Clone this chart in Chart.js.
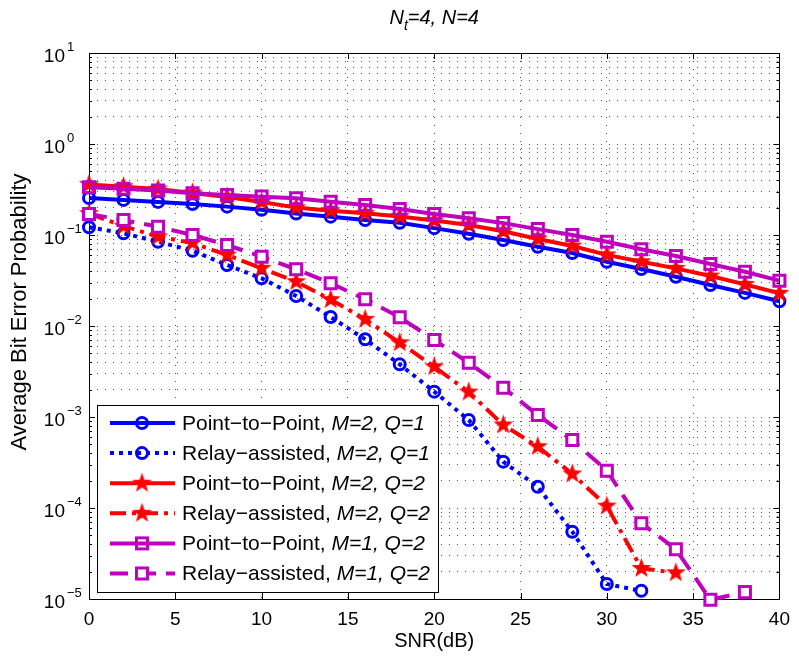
<!DOCTYPE html>
<html>
<head>
<meta charset="utf-8">
<title>Average BER vs SNR</title>
<script src="https://cdn.jsdelivr.net/npm/chart.js@4.4.1/dist/chart.umd.min.js"></script>
<style>
  body { margin: 0; background: #fff; }
  #berChart { display: block; }
</style>
</head>
<body>
<canvas id="berChart" width="799" height="660"></canvas>
<script>
const FONT = '"Liberation Sans", Arial, Helvetica, sans-serif';

// SNR points in dB (every curve starts at 0, step 2)
const snr = [0, 2, 4, 6, 8, 10, 12, 14, 16, 18, 20, 22, 24, 26, 28, 30, 32, 34, 36, 38, 40];

// average bit error probability for each scheme
const p2pM2Q1 = [0.255, 0.243, 0.231, 0.219, 0.205, 0.189, 0.172, 0.159, 0.146, 0.136, 0.119, 0.103, 0.088, 0.0743, 0.0634, 0.0509, 0.0423, 0.0348, 0.0282, 0.0231, 0.0187];
const relayM2Q1 = [0.1215, 0.1044, 0.0844, 0.0671, 0.0468, 0.0334, 0.0214, 0.01256, 0.00714, 0.00379, 0.0019, 0.000927, 0.000323, 0.000171, 5.49e-5, 1.46e-5, 1.23e-5];
const p2pM2Q2 = [0.36, 0.34, 0.32, 0.29, 0.262, 0.23, 0.2, 0.185, 0.173, 0.16, 0.144, 0.129, 0.11, 0.0905, 0.0757, 0.0605, 0.0509, 0.043, 0.0354, 0.0287, 0.0229];
const relayM2Q2 = [0.172, 0.125, 0.0958, 0.0817, 0.0603, 0.0431, 0.0307, 0.0195, 0.01185, 0.00655, 0.00357, 0.00188, 0.000817, 0.000472, 0.000237, 0.000105, 2.17e-5, 1.94e-5];
const p2pM1Q2 = [0.334, 0.322, 0.308, 0.287, 0.275, 0.264, 0.253, 0.232, 0.214, 0.193, 0.170, 0.153, 0.135, 0.116, 0.100, 0.0844, 0.0697, 0.0588, 0.048, 0.0395, 0.0315];
const relayM1Q2 = [0.170, 0.146, 0.123, 0.100, 0.0776, 0.0578, 0.042, 0.0295, 0.0197, 0.01247, 0.00702, 0.00395, 0.0021, 0.00105, 0.000558, 0.000257, 6.79e-5, 3.52e-5, 0.98e-5, 1.19e-5];

// x ticks and the decades that get a "10^k" label
const xTicks = [0, 5, 10, 15, 20, 25, 30, 35, 40];
const yDecades = [-5, -4, -3, -2, -1, 0, 1];

// legend text: plain part + italic part
const legendPlain = ['Point\u2212to\u2212Point, ', 'Relay\u2212assisted, ', 'Point\u2212to\u2212Point, ', 'Relay\u2212assisted, ', 'Point\u2212to\u2212Point, ', 'Relay\u2212assisted, '];
const legendItalic = ['M=2, Q=1', 'M=2, Q=1', 'M=2, Q=2', 'M=2, Q=2', 'M=1, Q=2', 'M=1, Q=2'];

const yTitle = 'Average Bit Error Probability';

const BLUE = '#0000ff';
const RED = '#ff0000';
const PURPLE = '#bf00bf';

function toPoints(values) {
  return values.map((v, i) => ({ x: snr[i], y: v }));
}

// filled five-point star used as the red marker
function makeStar(r, color) {
  const c = document.createElement('canvas');
  const size = Math.ceil(r * 2 + 2);
  c.width = size;
  c.height = size;
  const g = c.getContext('2d');
  const inner = r * 0.4;
  g.beginPath();
  for (let i = 0; i < 10; i++) {
    const rad = i % 2 === 0 ? r : inner;
    const a = -Math.PI / 2 + i * Math.PI / 5;
    const px = size / 2 + rad * Math.cos(a);
    const py = size / 2 + rad * Math.sin(a);
    if (i === 0) g.moveTo(px, py); else g.lineTo(px, py);
  }
  g.closePath();
  g.fillStyle = color;
  g.fill();
  return c;
}
const starImg = makeStar(10.5, RED);

function series(values, color, dash, style, order) {
  const ds = {
    data: toPoints(values),
    borderColor: color,
    borderWidth: 4,
    borderDash: dash,
    pointBorderColor: color,
    pointBackgroundColor: 'rgba(0,0,0,0)',
    pointBorderWidth: 3,
    pointStyle: style,
    pointRadius: 5.5,
    tension: 0,
    fill: false,
    clip: false,
    order: order
  };
  if (style === 'rect') ds.pointRadius = 7.8;
  return ds;
}

const datasets = [
  series(p2pM2Q1, BLUE, [], 'circle', 6),
  series(relayM2Q1, BLUE, [4, 5], 'circle', 5),
  series(p2pM2Q2, RED, [], starImg, 4),
  series(relayM2Q2, RED, [16, 6, 4, 6], starImg, 3),
  series(p2pM1Q2, PURPLE, [], 'rect', 2),
  series(relayM1Q2, PURPLE, [18, 10], 'rect', 1)
];
datasets[5].pointBackgroundColor = '#ffffff';
datasets.forEach((ds, i) => { ds.label = legendPlain[i] + legendItalic[i]; });

/* ------------------------- frame, inward ticks, labels ------------------------- */
const framePlugin = {
  id: 'frame',
  beforeDatasetsDraw(chart) {
    const ctx = chart.ctx;
    const a = chart.chartArea;
    const xs = chart.scales.x;
    const ys = chart.scales.y;
    ctx.save();
    ctx.strokeStyle = '#000';
    ctx.lineWidth = 1;
    ctx.setLineDash([]);
    ctx.strokeRect(Math.round(a.left) + 0.5, Math.round(a.top) + 0.5, Math.round(a.right - a.left), Math.round(a.bottom - a.top));

    ctx.beginPath();
    xTicks.forEach(v => {
      const px = Math.round(xs.getPixelForValue(v)) + 0.5;
      ctx.moveTo(px, a.bottom); ctx.lineTo(px, a.bottom - 6);
      ctx.moveTo(px, a.top); ctx.lineTo(px, a.top + 6);
    });
    ys.ticks.forEach(t => {
      const py = Math.round(ys.getPixelForValue(t.value)) + 0.5;
      const len = t.major ? 6 : 3;
      ctx.moveTo(a.left, py); ctx.lineTo(a.left + len, py);
      ctx.moveTo(a.right, py); ctx.lineTo(a.right - len, py);
    });
    ctx.stroke();

    // y tick labels as 10^k
    ctx.fillStyle = '#000';
    yDecades.forEach(k => {
      const py = ys.getPixelForValue(Math.pow(10, k));
      ctx.font = '19px ' + FONT;
      ctx.textAlign = 'right';
      ctx.textBaseline = 'alphabetic';
      ctx.fillText('10', 65, py + 9);
      ctx.font = '13px ' + FONT;
      ctx.textAlign = 'left';
      ctx.fillText(String(k).replace('-', '\u2212'), 67, py - 2);
    });

    // y axis title, sits a bit above the middle of the axis
    ctx.save();
    ctx.translate(20, 312);
    ctx.rotate(-Math.PI / 2);
    ctx.font = '22px ' + FONT;
    ctx.textAlign = 'center';
    ctx.textBaseline = 'middle';
    ctx.fillText(yTitle, 0, 0);
    ctx.restore();

    // title N_t=4, N=4
    ctx.textAlign = 'left';
    ctx.textBaseline = 'alphabetic';
    const big = 'italic 20px ' + FONT;
    const small = 'italic 14px ' + FONT;
    ctx.font = big;
    const wN = ctx.measureText('N').width;
    const wRest = ctx.measureText('=4, N=4').width;
    ctx.font = small;
    const wSub = ctx.measureText('t').width;
    let tx = (a.left + a.right) / 2 - (wN + wSub + wRest) / 2;
    const ty = 24;
    ctx.font = big;
    ctx.fillText('N', tx, ty);
    tx += wN;
    ctx.font = small;
    ctx.fillText('t', tx, ty + 6);
    tx += wSub;
    ctx.font = big;
    ctx.fillText('=4, N=4', tx, ty);
    ctx.restore();
  }
};

/* ------------------------------- legend box ------------------------------- */
const legendPlugin = {
  id: 'berLegend',
  afterDraw(chart) {
    const ctx = chart.ctx;
    const box = { left: 97, top: 405, right: 438, bottom: 592 };
    ctx.save();
    ctx.fillStyle = '#fff';
    ctx.fillRect(box.left, box.top, box.right - box.left, box.bottom - box.top);
    ctx.strokeStyle = '#000';
    ctx.lineWidth = 1;
    ctx.strokeRect(box.left + 0.5, box.top + 0.5, box.right - box.left, box.bottom - box.top);

    chart.data.datasets.forEach((ds, i) => {
      const y = 423 + i * 30.1;
      ctx.setLineDash(ds.borderDash);
      ctx.strokeStyle = ds.borderColor;
      ctx.lineWidth = ds.borderWidth;
      ctx.beginPath();
      ctx.moveTo(110, y);
      ctx.lineTo(175, y);
      ctx.stroke();
      ctx.setLineDash([]);

      const mx = 142;
      if (ds.pointStyle === 'circle') {
        ctx.lineWidth = 3;
        ctx.beginPath();
        ctx.arc(mx, y, ds.pointRadius, 0, Math.PI * 2);
        ctx.stroke();
      } else if (ds.pointStyle === 'rect') {
        const s = ds.pointRadius * Math.SQRT1_2;
        ctx.lineWidth = 3;
        ctx.fillStyle = ds.pointBackgroundColor;
        ctx.fillRect(mx - s, y - s, 2 * s, 2 * s);
        ctx.strokeRect(mx - s, y - s, 2 * s, 2 * s);
      } else {
        ctx.drawImage(ds.pointStyle, mx - ds.pointStyle.width / 2, y - ds.pointStyle.height / 2);
      }

      ctx.fillStyle = '#000';
      ctx.textBaseline = 'middle';
      ctx.textAlign = 'left';
      ctx.font = '21px ' + FONT;
      ctx.fillText(legendPlain[i], 182, y + 1);
      const w = ctx.measureText(legendPlain[i]).width;
      ctx.font = 'italic 21px ' + FONT;
      ctx.fillText(legendItalic[i], 182 + w, y + 1);
    });
    ctx.restore();
  }
};

// ticks 1..9 x 10^k so the log grid gets its minor lines
function logTicks(scale) {
  const ticks = [];
  for (let e = -5; e <= 1; e++) {
    for (let m = 1; m <= 9; m++) {
      const v = m * Math.pow(10, e);
      if (v > 10.0001) break;
      ticks.push({ value: v, major: m === 1 });
    }
  }
  scale.ticks = ticks;
}

const ctx = document.getElementById('berChart').getContext('2d');
const berChart = new Chart(ctx, {
  type: 'line',
  data: { datasets: datasets },
  options: {
    responsive: false,
    animation: false,
    events: [],
    layout: { padding: { top: 53, right: 17, left: 0, bottom: 0 } },
    plugins: {
      legend: { display: false },
      tooltip: { enabled: false }
    },
    scales: {
      x: {
        type: 'linear',
        min: 0,
        max: 40,
        afterFit: (s) => { s.height = 61; },
        ticks: {
          stepSize: 5,
          color: '#000',
          padding: 9,
          maxRotation: 0,
          font: { family: FONT, size: 19 }
        },
        grid: { color: '#555', lineWidth: 1, drawTicks: false },
        border: { display: false, dash: [1, 7] },
        title: {
          display: true,
          text: 'SNR(dB)',
          color: '#000',
          font: { family: FONT, size: 20 },
          padding: { top: 0, bottom: 7 }
        }
      },
      y: {
        type: 'logarithmic',
        min: 1e-5,
        max: 10,
        afterBuildTicks: logTicks,
        afterFit: (s) => { s.width = 89; },
        ticks: { display: false },
        grid: { color: '#555', lineWidth: 1, drawTicks: false },
        border: { display: false, dash: [1, 7] }
      }
    }
  },
  plugins: [framePlugin, legendPlugin]
});
</script>
</body>
</html>
